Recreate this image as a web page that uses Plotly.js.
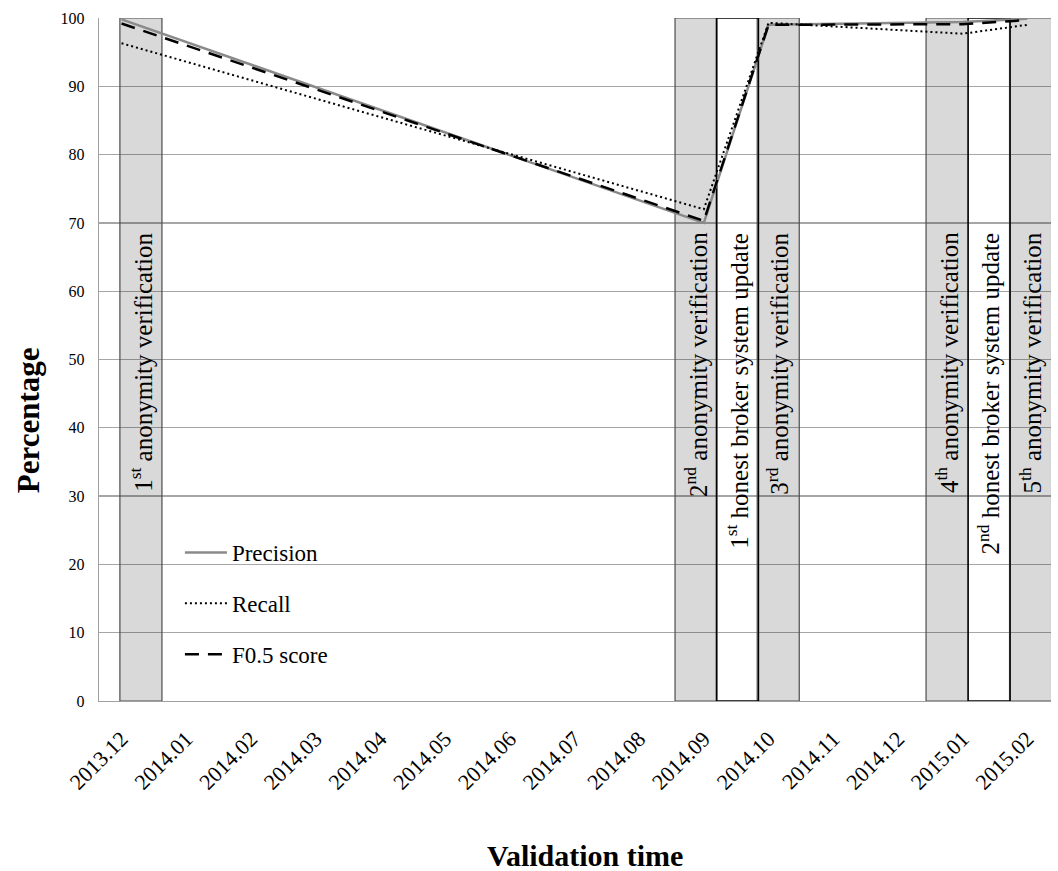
<!DOCTYPE html>
<html>
<head>
<meta charset="utf-8">
<script src="https://cdn.plot.ly/plotly-3.0.1.min.js"></script>
<style>
html,body{margin:0;padding:0;background:#fff;overflow:hidden;}
#chart{width:1058px;height:871px;}
#chart .xtick text, #chart .ytick text{font-family:"Liberation Serif", serif !important;}
</style>
</head>
<body>
<div id="chart"></div>
<script>
// ---- data ----
const months = ['2013.12','2014.01','2014.02','2014.03','2014.04','2014.05','2014.06','2014.07','2014.08','2014.09','2014.10','2014.11','2014.12','2015.01','2015.02'];
const precision = [99.8, null, null, null, null, null, null, null, null, 70.0, 99.0, null, null, 99.4, 99.9];
const recall    = [96.3, null, null, null, null, null, null, null, null, 72.0, 99.3, null, null, 97.7, 99.0];
const f05       = [99.2, null, null, null, null, null, null, null, null, 70.3, 99.0, null, null, 99.1, 99.7];

// events (time in month-index units from 2013.12)
const eventLabels = [
  '1<sup>st</sup> anonymity verification',
  '2<sup>nd</sup> anonymity verification',
  '1<sup>st</sup> honest broker system update',
  '3<sup>rd</sup> anonymity verification',
  '4<sup>th</sup> anonymity verification',
  '2<sup>nd</sup> honest broker system update',
  '5<sup>th</sup> anonymity verification'
];
const eventTime = [0.30, 8.88, 9.52, 10.15, 12.76, 13.41, 14.05];
const eventKind = ['verification','verification','update','verification','verification','update','verification'];
const eventValue = [100, 100, 100, 100, 100, 100, 100];
const yTicks = [0,10,20,30,40,50,60,70,80,90,100];

// ---- build ----
const serif = "Liberation Serif";
const idx = months.map((_, i) => i);
const pick = kind => eventKind.map((k, i) => k === kind ? i : -1).filter(i => i >= 0);
const verIdx = pick('verification');
const updIdx = pick('update');
const barW = 0.65;

const traces = [
  {type:'bar', x: verIdx.map(i => eventTime[i]), y: verIdx.map(i => eventValue[i]), width: barW,
   marker:{color:'rgba(0,0,0,0.15)', line:{color:'#4d4d4d', width:1.2}}, showlegend:false, hoverinfo:'skip'},
  {type:'bar', x: updIdx.map(i => eventTime[i]), y: updIdx.map(i => eventValue[i]), width: barW,
   marker:{color:'rgba(255,255,255,0)', line:{color:'#000', width:1.4}}, showlegend:false, hoverinfo:'skip'},
  {type:'scatter', mode:'lines', name:'Precision', x: idx, y: precision, connectgaps:true, legendgroup:'a',
   line:{color:'#8a8a8a', width:2.5}},
  {type:'scatter', mode:'lines', name:'Recall', x: idx, y: recall, connectgaps:true, legendgroup:'b',
   line:{color:'#000', width:2, dash:'2px,3px'}},
  {type:'scatter', mode:'lines', name:'F0.5 score', x: idx, y: f05, connectgaps:true, legendgroup:'c',
   line:{color:'#000', width:2.5, dash:'14px,9px'}}
];

const annotations = eventLabels.map((t, i) => ({
  text: t, x: eventTime[i], y: 68.9, xref:'x', yref:'y', xanchor:'center', yanchor:'top',
  textangle:-90, showarrow:false, font:{family:serif, size:25, color:'#000'}
}));
annotations.push({text:'<b>Percentage</b>', xref:'paper', yref:'paper', x:-0.0746, y:0.411,
  xanchor:'center', yanchor:'middle', textangle:-90, showarrow:false, font:{family:serif, size:31, color:'#000'}});
annotations.push({text:'<b>Validation time</b>', xref:'paper', yref:'paper', x:0.51, y:-0.226,
  xanchor:'center', yanchor:'middle', showarrow:false, font:{family:serif, size:30, color:'#000'}});

const layout = {
  width:1058, height:871,
  margin:{l:99, r:7, t:18, b:170},
  paper_bgcolor:'#fff', plot_bgcolor:'#fff',
  barmode:'overlay',
  font:{family:serif, size:16, color:'#000'},
  xaxis:{type:'linear', range:[-0.348, 14.366], tickmode:'array', tickvals: idx, ticktext: months, tickangle:-45,
    showgrid:false, zeroline:false, showline:true, linecolor:'#a0a0a0', linewidth:1.3,
    ticks:'outside', ticklen:15, tickcolor:'rgba(0,0,0,0)',
    tickfont:{family:serif, size:22, color:'#000'}},
  yaxis:{range:[0,100], tickmode:'array', tickvals: yTicks, showgrid:true, gridcolor:'#a6a6a6', gridwidth:1.3,
    zeroline:false, showline:true, linecolor:'#a0a0a0', linewidth:1.3,
    ticks:'outside', ticklen:10, tickcolor:'rgba(0,0,0,0)',
    tickfont:{family:serif, size:16, color:'#000'}},
  showlegend:true,
  legend:{x:0.085, y:0.249, xanchor:'left', yanchor:'top', bgcolor:'rgba(0,0,0,0)', itemwidth:42,
    traceorder:'grouped', tracegroupgap:18, font:{family:serif, size:23, color:'#000'}},
  annotations: annotations
};

Plotly.newPlot('chart', traces, layout, {displayModeBar:false, staticPlot:true});
</script>
</body>
</html>
